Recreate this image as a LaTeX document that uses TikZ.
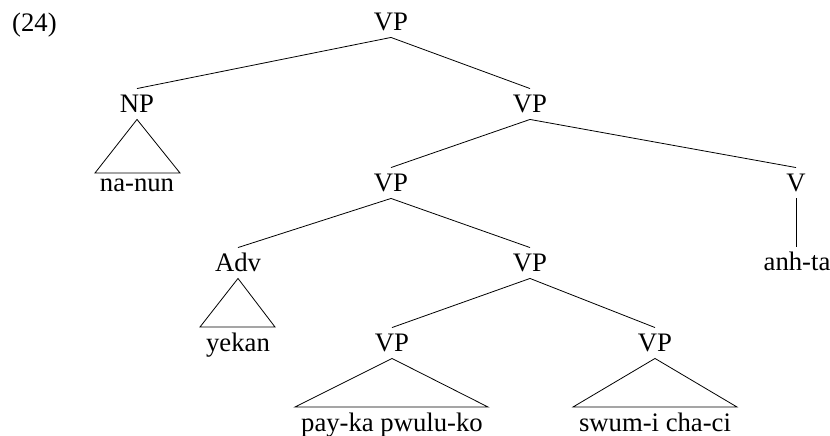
\documentclass[tikz,border=0pt]{standalone}
\usepackage{fontspec}
\setmainfont{Liberation Serif}
\begin{document}
\begin{tikzpicture}[x=1pt,y=-1pt,
  every node/.style={font=\fontsize{26.7}{31}\selectfont},
  cat/.style={inner xsep=2pt,inner ysep=6.5pt,text height=17.5pt,text depth=0pt,anchor=center},
  leaf/.style={inner sep=0pt,anchor=base},
  branch/.style={line width=0.8pt},
  roof/.style={line width=0.8pt,line join=miter}]
  \useasboundingbox (0,0) rectangle (830,436);

  % example number
  \node[leaf,anchor=base west] (num) at (12,32) {(24)};

  % category labels
  \node[cat] (vp1) at (391,22)  {VP};
  \node[cat] (np)  at (137,104) {NP};
  \node[cat] (vp2) at (530,104) {VP};
  \node[cat] (vp3) at (391,183) {VP};
  \node[cat] (v)   at (796,183) {V};
  \node[cat] (adv) at (238,263) {Adv};
  \node[cat] (vp4) at (530,263) {VP};
  \node[cat] (vp5) at (392,343) {VP};
  \node[cat] (vp6) at (655,343) {VP};

  % terminal strings
  \node[leaf] (nanun) at (137,191) {na-nun};
  \node[leaf] (anhta) at (797,270) {anh-ta};
  \node[leaf] (yekan) at (238,351) {yekan};
  \node[leaf] (payka) at (392,431) {pay-ka pwulu-ko};
  \node[leaf] (swumi) at (655,431) {swum-i cha-ci};

  % branches
  \draw[branch] (vp1.south) -- (np.north);
  \draw[branch] (vp1.south) -- (vp2.north);
  \draw[branch] (vp2.south) -- (vp3.north);
  \draw[branch] (vp2.south) -- (v.north);
  \draw[branch] (vp3.south) -- (adv.north);
  \draw[branch] (vp3.south) -- (vp4.north);
  \draw[branch] (vp4.south) -- (vp5.north);
  \draw[branch] (vp4.south) -- (vp6.north);
  \coordinate (anhtop) at (796,247);
  \draw[branch] (v.south) -- (anhtop);

  % triangles over unanalysed constituents
  \coordinate (npL) at (95,173);   \coordinate (npR) at (180,173);
  \coordinate (advL) at (200,327); \coordinate (advR) at (275,327);
  \coordinate (vp5L) at (295,407); \coordinate (vp5R) at (488,407);
  \coordinate (vp6L) at (573,407); \coordinate (vp6R) at (737,407);
  \draw[roof] (np.south) -- (npL) -- (npR) -- cycle;
  \draw[roof] (adv.south) -- (advL) -- (advR) -- cycle;
  \draw[roof] (vp5.south) -- (vp5L) -- (vp5R) -- cycle;
  \draw[roof] (vp6.south) -- (vp6L) -- (vp6R) -- cycle;
\end{tikzpicture}
\end{document}
